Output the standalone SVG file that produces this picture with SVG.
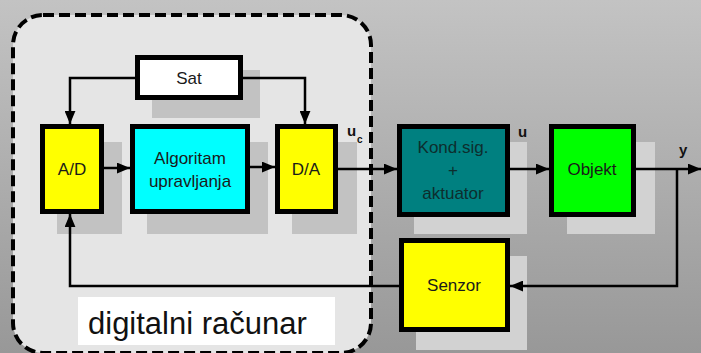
<svg xmlns="http://www.w3.org/2000/svg" width="701" height="353" viewBox="0 0 701 353">
<defs>
<linearGradient id="bg" x1="0" y1="0" x2="0" y2="1">
<stop offset="0" stop-color="#c3c3c3"/>
<stop offset="1" stop-color="#989898"/>
</linearGradient>
<marker id="ah" viewBox="0 0 12 10" refX="12" refY="5" markerWidth="13" markerHeight="11" markerUnits="userSpaceOnUse" orient="auto">
<path d="M0,0 L12,5 L0,10 Z" fill="#000"/>
</marker>
<style>
.box{stroke:#000;stroke-width:5}
.shin{fill:#c2c2c2}
.shout{fill:#d2d2d2}
.t{font-family:"Liberation Sans",Arial,sans-serif;font-size:17px;fill:#1a1a1a;text-anchor:middle}
.lab{font-family:"Liberation Sans",Arial,sans-serif;font-weight:bold;fill:#111}
.c{fill:none;stroke:#000;stroke-width:2.5}
</style>
</defs>
<rect width="701" height="353" fill="url(#bg)"/>
<g id="computer">
<rect x="13" y="15" width="358" height="338" rx="30" fill="#e5e5e5" stroke="#000" stroke-width="4" stroke-dasharray="11,5"/>
<rect x="78" y="297" width="257" height="48" fill="#fff"/>
<text x="88" y="334" font-family="Liberation Sans,Arial,sans-serif" font-size="31" fill="#111">digitalni računar</text>
</g>
<g id="shadows">
<rect class="shin" x="152" y="70" width="108" height="48"/>
<rect class="shin" x="57" y="142" width="65" height="92"/>
<rect class="shin" x="147" y="142" width="121" height="92"/>
<rect class="shin" x="292" y="142" width="65" height="92"/>
<rect class="shout" x="414" y="142" width="113" height="92"/>
<rect class="shout" x="567" y="142" width="88" height="92"/>
<rect class="shout" x="416" y="256" width="111" height="94"/>
</g>
<g id="connectors">
<path class="c" d="M135,78 H70 V124" marker-end="url(#ah)"/>
<path class="c" d="M243,78 H305 V124" marker-end="url(#ah)"/>
<path class="c" d="M104,168 H130" marker-end="url(#ah)"/>
<path class="c" d="M250,167 H275" marker-end="url(#ah)"/>
<path class="c" d="M338,169 H397" marker-end="url(#ah)"/>
<path class="c" d="M510,169 H549" marker-end="url(#ah)"/>
<path class="c" d="M636,169 H701" marker-end="url(#ah)"/>
<path class="c" d="M677,169 V286 H510" marker-end="url(#ah)"/>
<path class="c" d="M399,286 H70 V214" marker-end="url(#ah)"/>
</g>
<g id="sat">
<rect class="box" x="137.5" y="57.5" width="103" height="40" fill="#fff"/>
<text class="t" x="189" y="84">Sat</text>
</g>
<g id="ad">
<rect class="box" x="42.5" y="126.5" width="59" height="85" fill="#ffff00"/>
<text class="t" x="72" y="175">A/D</text>
</g>
<g id="algoritam">
<rect class="box" x="132.5" y="126.5" width="115" height="85" fill="#00ffff"/>
<text class="t" x="190" y="164">Algoritam</text>
<text class="t" x="190" y="187">upravljanja</text>
</g>
<g id="da">
<rect class="box" x="277.5" y="126.5" width="58" height="85" fill="#ffff00"/>
<text class="t" x="306" y="175">D/A</text>
</g>
<g id="kond">
<rect class="box" x="399.5" y="126.5" width="108" height="88" fill="#008080"/>
<text class="t" x="453" y="153" style="fill:#0d2e2e">Kond.sig.</text>
<text class="t" x="453" y="176" style="fill:#0d2e2e">+</text>
<text class="t" x="453" y="199" style="fill:#0d2e2e">aktuator</text>
</g>
<g id="objekt">
<rect class="box" x="551.5" y="126.5" width="82" height="88" fill="#00ff00"/>
<text class="t" x="592" y="175">Objekt</text>
</g>
<g id="senzor">
<rect class="box" x="401.5" y="240.5" width="106" height="89" fill="#ffff00"/>
<text class="t" x="454" y="291">Senzor</text>
</g>
<g id="labels">
<text class="lab" x="347" y="136" font-size="15">u</text>
<text class="lab" x="357" y="143" font-size="10">c</text>
<text class="lab" x="518" y="137" font-size="15">u</text>
<text class="lab" x="679" y="155" font-size="15">y</text>
</g>
</svg>
